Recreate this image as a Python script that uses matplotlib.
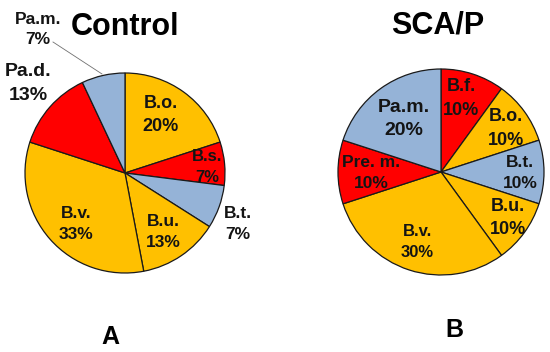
import matplotlib
matplotlib.use("Agg")
import matplotlib.pyplot as plt

plt.rcParams['font.family'] = ['Liberation Sans', 'DejaVu Sans']

# Data
control_labels = ["B.o.", "B.s.", "B.t.", "B.u.", "B.v.", "Pa.d.", "Pa.m."]
control_values = [20, 7, 7, 13, 33, 13, 7]
scap_labels = ["B.f.", "B.o.", "B.t.", "B.u.", "B.v.", "Pre. m.", "Pa.m."]
scap_values = [10, 10, 10, 10, 30, 10, 20]

GOLD, RED, BLUE = "#FFC000", "#FF0000", "#95B3D7"
control_colors = [GOLD, RED, BLUE, GOLD, GOLD, RED, BLUE]
scap_colors = [RED, GOLD, BLUE, GOLD, GOLD, RED, BLUE]

# Layout (label centres in image pixel coords, font sizes)
control_label_pos = [(160.5, 115), (207, 167), (238, 224), (163.5, 232),
                     (76, 224), (28.5, 83.5), (38, 29.5)]
control_label_fs = [13, 12, 12.5, 12.5, 12.5, 14, 12.5]
scap_label_pos = [(461.5, 98.5), (506, 128.5), (520, 173), (508, 218),
                  (417, 242), (371.5, 173), (404, 119)]
scap_label_fs = [13, 13, 12.5, 13, 12, 12.5, 14]

W, H = 550, 352
fig = plt.figure(figsize=(5.5, 3.52), dpi=100)
ax = fig.add_axes([0, 0, 1, 1])


def draw_pie(values, labels, colors, cx, cy_img, R, pos, sizes):
    cy = H - cy_img
    wedges, _ = ax.pie(values, colors=colors, startangle=90, counterclock=False,
                       center=(cx, cy), radius=R, frame=True,
                       wedgeprops=dict(edgecolor="#1a1a1a", linewidth=0.9))
    tot = sum(values)
    for lab, v, (x, y), fs in zip(labels, values, pos, sizes):
        pct = round(100 * v / tot)
        ax.text(x, H - y, f"{lab}\n{pct}%", ha="center", va="center",
                fontsize=fs, fontweight="bold", color="#141414", linespacing=1.5)
    return wedges


draw_pie(control_values, control_labels, control_colors, 125, 173, 100,
         control_label_pos, control_label_fs)
# leader line for Pa.m.
ax.plot([53, 102], [H - 42, H - 74], color="#707070", linewidth=0.6)

draw_pie(scap_values, scap_labels, scap_colors, 441, 172, 103,
         scap_label_pos, scap_label_fs)

ax.set_xlim(0, W)
ax.set_ylim(0, H)
ax.set_aspect('equal')
ax.axis('off')

ax.text(125, H - 27, "Control", ha="center", va="center", fontsize=22, fontweight="bold")
ax.text(438, H - 25, "SCA/P", ha="center", va="center", fontsize=22, fontweight="bold")
ax.text(110, H - 337, "A", ha="center", va="center", fontsize=18, fontweight="bold")
ax.text(454, H - 330, "B", ha="center", va="center", fontsize=18, fontweight="bold")

fig.savefig("out.png", dpi=100)
